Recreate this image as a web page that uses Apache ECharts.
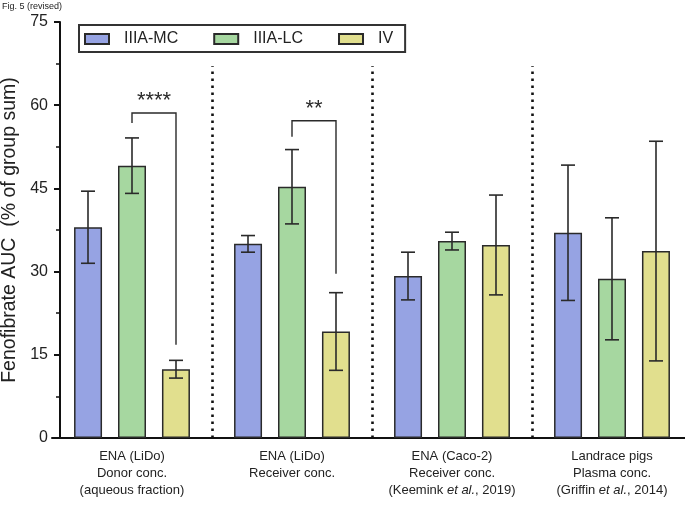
<!DOCTYPE html>
<html>
<head>
<meta charset="utf-8">
<script src="https://cdn.jsdelivr.net/npm/echarts@6/dist/echarts.min.js"></script>
<style>
  html, body { margin: 0; padding: 0; background: #fff; }
  #echarts { width: 685px; height: 506px; }
</style>
</head>
<body>
<div id="echarts"></div>
<script>
// groups on the x axis
var categories = [
    'ENA (LiDo)\nDonor conc.\n(aqueous fraction)',
    'ENA (LiDo)\nReceiver conc.',
    'ENA (Caco-2)\nReceiver conc.\n(Keemink et al., 2019)',
    'Landrace pigs\nPlasma conc.\n(Griffin et al., 2014)'
];
var seriesNames = ['IIIA-MC', 'IIIA-LC', 'IV'];

// mean and error (% of group sum)
var mcMean = [38.0, 35.0, 29.2, 37.0];
var mcErr = [6.5, 1.5, 4.3, 12.2];
var lcMean = [49.1, 45.3, 35.5, 28.7];
var lcErr = [5.0, 6.7, 1.6, 11.0];
var ivMean = [12.4, 19.2, 34.8, 33.7];
var ivErr = [1.6, 7.0, 9.0, 19.8];

// significance brackets: IIIA-LC vs IV
var sigCats = [0, 1];
var sigLeft = [56.8, 54.3];
var sigTop = [58.6, 57.2];
var sigRight = [16.8, 29.6];
var sigLabels = ['****', '**'];

// dotted separators between groups (top value)
var sepCats = [1, 2, 3];
var sepTop = 67;

var yTicks = { min: 0, max: 75, interval: 15 };

var colors = ['#96a3e3', '#a6d7a0', '#e1df8e'];
var means = [mcMean, lcMean, ivMean];
var errs = [mcErr, lcErr, ivErr];
var font = '"Liberation Sans", Arial, sans-serif';
var ink = '#2a2a2a';
var offsetFrac = 0.275; // bar centre offset as part of the band

var chartDom = document.getElementById('echarts');
var myChart = echarts.init(chartDom);

function errorSeries(i) {
    return {
        type: 'custom',
        name: seriesNames[i] + ' err',
        z: 5,
        silent: true,
        data: means[i].map(function (m, k) { return [k, m, errs[i][k]]; }),
        renderItem: function (params, api) {
            var band = api.size([1, 0])[0];
            var k = api.value(0), m = api.value(1), e = api.value(2);
            var top = api.coord([k, m + e]);
            var bot = api.coord([k, m - e]);
            var x = top[0] + (i - 1) * offsetFrac * band;
            var cap = 7;
            var st = { stroke: ink, lineWidth: 1.6 };
            return {
                type: 'group',
                children: [
                    { type: 'line', shape: { x1: x, y1: top[1], x2: x, y2: bot[1] }, style: st },
                    { type: 'line', shape: { x1: x - cap, y1: top[1], x2: x + cap, y2: top[1] }, style: st },
                    { type: 'line', shape: { x1: x - cap, y1: bot[1], x2: x + cap, y2: bot[1] }, style: st }
                ]
            };
        }
    };
}

var series = [];
for (var i = 0; i < 3; i++) {
    series.push({
        type: 'bar',
        name: seriesNames[i],
        data: means[i],
        barWidth: 28,
        barGap: '57%',
        itemStyle: { color: colors[i], borderColor: ink, borderWidth: 1.5 }
    });
}
for (var j = 0; j < 3; j++) {
    series.push(errorSeries(j));
}

series.push({
    type: 'custom',
    name: 'sig',
    z: 6,
    silent: true,
    data: sigCats.map(function (c, k) { return [c, sigLeft[k], sigTop[k], sigRight[k]]; }),
    renderItem: function (params, api) {
        var band = api.size([1, 0])[0];
        var k = api.value(0);
        var l = api.coord([k, api.value(1)]);
        var t = api.coord([k, api.value(2)]);
        var r = api.coord([k, api.value(3)]);
        var x1 = l[0];
        var x2 = l[0] + offsetFrac * band;
        return {
            type: 'group',
            children: [
                { type: 'polyline', shape: { points: [[x1, l[1]], [x1, t[1]], [x2, t[1]], [x2, r[1]]] }, style: { stroke: ink, lineWidth: 1.4, fill: null } },
                { type: 'text', style: { x: (x1 + x2) / 2, y: t[1] - 12, text: sigLabels[params.dataIndex], font: '22px ' + font, fill: ink, align: 'center', verticalAlign: 'middle' } }
            ]
        };
    }
});

series.push({
    type: 'custom',
    name: 'sep',
    z: 1,
    silent: true,
    data: sepCats.map(function (c) { return [c, sepTop]; }),
    renderItem: function (params, api) {
        var band = api.size([1, 0])[0];
        var t = api.coord([api.value(0), api.value(1)]);
        var b = api.coord([api.value(0), 0]);
        var x = Math.round(t[0] - band / 2) + 0.5;
        return {
            type: 'line',
            shape: { x1: x, y1: b[1], x2: x, y2: t[1] },
            style: { stroke: '#111', lineWidth: 2.6, lineDash: [2.6, 4.4] }
        };
    }
});

var option = {
    animation: false,
    backgroundColor: '#fff',
    textStyle: { fontFamily: font },
    graphic: {
        elements: [
            {
                type: 'text',
                left: 2,
                top: 2,
                style: { text: 'Fig. 5 (revised)', font: '9px ' + font, fill: '#222' }
            }
        ]
    },
    legend: {
        data: seriesNames,
        left: 79,
        top: 25,
        orient: 'horizontal',
        icon: 'rect',
        itemWidth: 24,
        itemHeight: 10,
        itemGap: 35,
        padding: [6, 12, 5, 5],
        borderColor: '#333',
        borderWidth: 2,
        selectedMode: false,
        textStyle: { fontSize: 16, color: '#222', fontFamily: font, padding: [0, 0, 0, 10] }
    },
    grid: {
        left: 52,
        right: -7,
        top: 22,
        bottom: 68,
        containLabel: false,
        outerBoundsMode: 'none'
    },
    xAxis: {
        type: 'category',
        data: categories,
        axisLine: { lineStyle: { color: '#111', width: 2 } },
        axisTick: { alignWithLabel: true, length: 6, lineStyle: { color: '#111', width: 2 } },
        axisLabel: {
            interval: 0,
            hideOverlap: false,
            color: '#222',
            fontSize: 13,
            lineHeight: 17,
            margin: 10,
            formatter: function (v) { return v.replace('et al.', '{i|et al.}'); },
            rich: { i: { fontStyle: 'italic', fontSize: 13, color: '#222', lineHeight: 17 } }
        }
    },
    yAxis: {
        type: 'value',
        min: yTicks.min,
        max: yTicks.max,
        interval: yTicks.interval,
        offset: -8,
        name: 'Fenofibrate AUC  (% of group sum)',
        nameLocation: 'middle',
        nameGap: 38,
        nameTextStyle: { fontSize: 19.5, color: '#222' },
        axisLine: { show: true, lineStyle: { color: '#111', width: 2 } },
        axisTick: { show: true, length: 6, lineStyle: { color: '#111', width: 2 } },
        minorTick: { show: true, splitNumber: 2, length: 4, lineStyle: { color: '#111', width: 1.5 } },
        splitLine: { show: false },
        axisLabel: { fontSize: 16, color: '#222', margin: 12 }
    },
    series: series
};

myChart.setOption(option);
</script>
</body>
</html>
